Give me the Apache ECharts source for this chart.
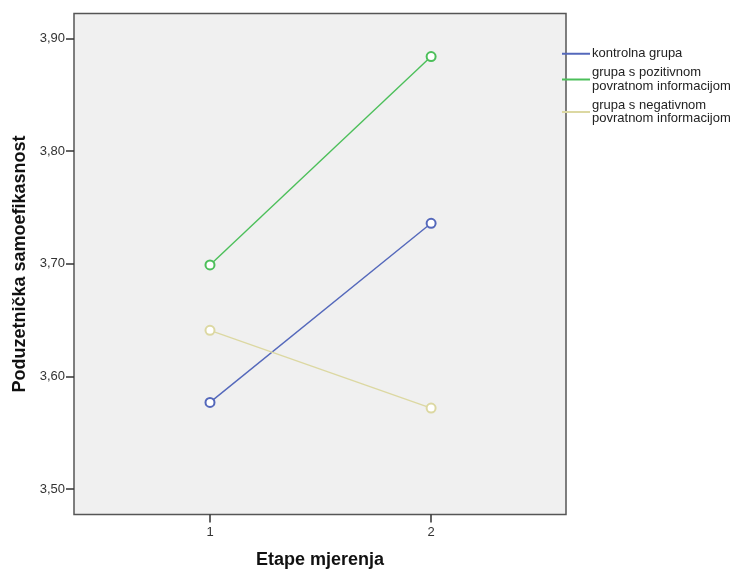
<!DOCTYPE html>
<html><head><meta charset="utf-8">
<script src="https://cdn.jsdelivr.net/npm/echarts@6/dist/echarts.min.js"></script>
<style>html,body{margin:0;padding:0;background:#fff}#c{width:735px;height:572px}</style>
</head><body><div id="c"></div>
<script>
const stages = [1, 2];
const seriesNames = ['kontrolna grupa', 'grupa s pozitivnom\npovratnom informacijom', 'grupa s negativnom\npovratnom informacijom'];
const kontrolna = [3.577, 3.736];
const pozitivna = [3.699, 3.884];
const negativna = [3.641, 3.572];
const yTicks = [3.5, 3.6, 3.7, 3.8, 3.9];
const colors = ['#5468bb', '#4cbf5a', '#dcd8a2'];

const chart = echarts.init(document.getElementById('c'));
const values = [kontrolna, pozitivna, negativna];
const font = 'Liberation Sans, Arial';
chart.setOption({
  animation: false,
  backgroundColor: '#fff',
  grid: { left: 74, top: 13.5, width: 492, height: 501, outerBoundsMode: 'none', containLabel: false,
          show: true, backgroundColor: '#f0f0f0', borderColor: '#555', borderWidth: 1.5 },
  legend: {
    orient: 'vertical', left: 562, top: 47, itemWidth: 28, itemHeight: 2, itemGap: 5.5,
    icon: 'rect', padding: 0,
    textStyle: { fontFamily: font, fontSize: 13, color: '#222', lineHeight: 13.5, padding: [0, 0, 0, -3] },
    data: seriesNames.map((n, i) => ({ name: n, itemStyle: { color: colors[i], borderWidth: 0 } }))
  },
  xAxis: {
    type: 'value', min: 0.385, max: 2.61, interval: 1,
    name: 'Etape mjerenja', nameLocation: 'middle', nameGap: 37,
    nameTextStyle: { fontFamily: font, fontWeight: 'bold', fontSize: 18, color: '#111' },
    axisLine: { show: false },
    axisTick: { show: true, length: 8, lineStyle: { color: '#333', width: 1.5 }, customValues: stages },
    axisLabel: { fontFamily: font, fontSize: 13, color: '#333', margin: 11, customValues: stages, formatter: v => String(v) },
    splitLine: { show: false }
  },
  yAxis: {
    type: 'value', min: 3.4775, max: 3.9222,
    name: 'Poduzetnička samoefikasnost', nameLocation: 'middle', nameGap: 45,
    nameTextStyle: { fontFamily: font, fontWeight: 'bold', fontSize: 18, color: '#111' },
    axisLine: { show: false },
    axisTick: { show: true, length: 8, lineStyle: { color: '#333', width: 1.5 }, customValues: yTicks },
    axisLabel: { fontFamily: font, fontSize: 13, color: '#333', margin: 9, customValues: yTicks, formatter: v => v.toFixed(2).replace('.', ',') },
    splitLine: { show: false }
  },
  series: values.map((vals, i) => ({
    name: seriesNames[i], type: 'line',
    data: stages.map((s, j) => [s, vals[j]]),
    symbol: 'emptyCircle', symbolSize: 9,
    lineStyle: { color: colors[i], width: 1.4 },
    itemStyle: { color: colors[i], borderColor: colors[i], borderWidth: 1.2 }
  }))
});
</script></body></html>
